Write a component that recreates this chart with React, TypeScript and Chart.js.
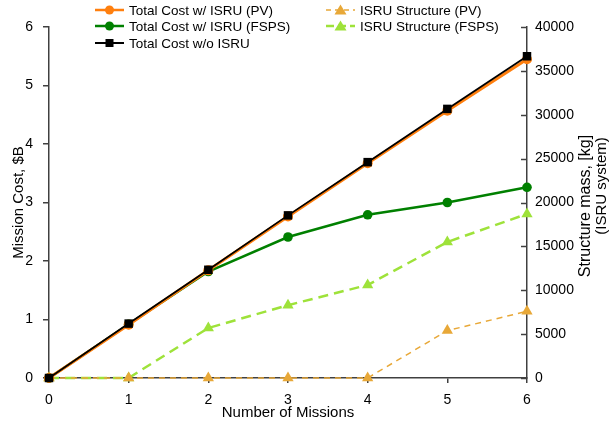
import React, { useEffect, useRef } from "react";
import { Chart, registerables } from "chart.js";

Chart.register(...registerables);

const missions = ["0", "1", "2", "3", "4", "5", "6"];
const totalCostPV = [0, 0.91, 1.84, 2.76, 3.67, 4.57, 5.45];
const totalCostFSPS = [0, 0.92, 1.82, 2.41, 2.79, 3.0, 3.26];
const totalCostNoISRU = [0, 0.93, 1.85, 2.78, 3.69, 4.6, 5.5];
const structurePV = [0, 0, 0, 0, 0, 5400, 7600];
const structureFSPS = [0, 0, 5700, 8300, 10600, 15500, 18700];

const FONT = "'Liberation Sans', Arial, sans-serif";
const AXIS = "#404040";
const C_ORANGE = "#ff7f0e";
const C_GREEN = "#008000";
const C_BLACK = "#000000";
const C_GOLD = "#e8a838";
const C_LIME = "#9ee23a";

const legendItems = [
  { label: "Total Cost w/ ISRU (PV)", color: C_ORANGE, style: "circle", dash: [] as number[], lw: 2.5, col: 0, row: 0 },
  { label: "Total Cost w/ ISRU (FSPS)", color: C_GREEN, style: "circle", dash: [], lw: 2.5, col: 0, row: 1 },
  { label: "Total Cost w/o ISRU", color: C_BLACK, style: "rect", dash: [], lw: 2, col: 0, row: 2 },
  { label: "ISRU Structure (PV)", color: C_GOLD, style: "triangle", dash: [5, 4], lw: 1.5, col: 1, row: 0 },
  { label: "ISRU Structure (FSPS)", color: C_LIME, style: "triangle", dash: [8, 4], lw: 2.5, col: 1, row: 1 },
];

function drawMarker(ctx: CanvasRenderingContext2D, style: string, x: number, y: number, color: string) {
  ctx.save();
  ctx.fillStyle = color;
  ctx.setLineDash([]);
  ctx.beginPath();
  if (style === "circle") {
    ctx.arc(x, y, 4.5, 0, Math.PI * 2);
  } else if (style === "rect") {
    ctx.rect(x - 4, y - 4, 8, 8);
  } else {
    ctx.moveTo(x, y - 5.5);
    ctx.lineTo(x + 6, y + 4.5);
    ctx.lineTo(x - 6, y + 4.5);
    ctx.closePath();
  }
  ctx.fill();
  ctx.restore();
}

const overlayPlugin = {
  id: "overlay",
  afterDraw(chart: any) {
    const ctx: CanvasRenderingContext2D = chart.ctx;
    const area = chart.chartArea;
    const y1 = chart.scales.y1;
    ctx.save();
    // inward ticks on right axis
    ctx.strokeStyle = AXIS;
    ctx.lineWidth = 1.5;
    for (const t of y1.ticks) {
      const py = Math.round(y1.getPixelForValue(t.value)) + 0.5;
      ctx.beginPath();
      ctx.moveTo(area.right - 6, py);
      ctx.lineTo(area.right, py);
      ctx.stroke();
    }
    // titles
    ctx.fillStyle = "#000";
    ctx.textAlign = "center";
    ctx.textBaseline = "middle";
    ctx.font = `15px ${FONT}`;
    ctx.fillText("Number of Missions", (area.left + area.right) / 2, 413);
    const rot = (text: string, x: number, y: number) => {
      ctx.save();
      ctx.translate(x, y);
      ctx.rotate(-Math.PI / 2);
      ctx.fillText(text, 0, 0);
      ctx.restore();
    };
    rot("Mission Cost, $B", 19, (area.top + area.bottom) / 2);
    ctx.font = `16px ${FONT}`;
    rot("Structure mass, [kg]", 586, 206);
    ctx.font = `15px ${FONT}`;
    rot("(ISRU system)", 602, 186);
    // legend
    const colX = [95, 326];
    const rowY = [10, 26, 43];
    ctx.font = `13.5px ${FONT}`;
    ctx.textAlign = "left";
    for (const it of legendItems) {
      const x0 = colX[it.col];
      const yy = rowY[it.row];
      ctx.save();
      ctx.strokeStyle = it.color;
      ctx.lineWidth = it.lw;
      ctx.setLineDash(it.dash);
      ctx.beginPath();
      ctx.moveTo(x0, yy);
      ctx.lineTo(x0 + 29, yy);
      ctx.stroke();
      ctx.restore();
      drawMarker(ctx, it.style, x0 + 14.5, yy, it.color);
      ctx.fillStyle = "#000";
      ctx.fillText(it.label, x0 + 34, yy + 1);
    }
    ctx.restore();
  },
};

export default function App() {
  const ref = useRef<HTMLCanvasElement>(null);
  useEffect(() => {
    if (!ref.current) return;
    const chart = new Chart(ref.current, {
      type: "line",
      data: {
        labels: missions,
        datasets: [
          {
            label: "Total Cost w/o ISRU",
            data: totalCostNoISRU,
            yAxisID: "y",
            borderColor: C_BLACK,
            backgroundColor: C_BLACK,
            borderWidth: 1.8,
            pointStyle: "rect",
            pointRadius: 6,
            pointBorderWidth: 0,
            order: 1,
          },
          {
            label: "Total Cost w/ ISRU (PV)",
            data: totalCostPV,
            yAxisID: "y",
            borderColor: C_ORANGE,
            backgroundColor: C_ORANGE,
            borderWidth: 3,
            pointStyle: "circle",
            pointRadius: 5,
            pointBorderWidth: 0,
            order: 2,
          },
          {
            label: "Total Cost w/ ISRU (FSPS)",
            data: totalCostFSPS,
            yAxisID: "y",
            borderColor: C_GREEN,
            backgroundColor: C_GREEN,
            borderWidth: 2.5,
            pointStyle: "circle",
            pointRadius: 4.8,
            pointBorderWidth: 0,
            order: 3,
          },
          {
            label: "ISRU Structure (PV)",
            data: structurePV,
            yAxisID: "y1",
            borderColor: C_GOLD,
            backgroundColor: C_GOLD,
            borderWidth: 1.5,
            borderDash: [6, 5],
            pointStyle: "triangle",
            pointRadius: 6.5,
            pointBorderWidth: 0,
            order: 4,
          },
          {
            label: "ISRU Structure (FSPS)",
            data: structureFSPS,
            yAxisID: "y1",
            borderColor: C_LIME,
            backgroundColor: C_LIME,
            borderWidth: 2.5,
            borderDash: [10, 6],
            pointStyle: "triangle",
            pointRadius: 6.5,
            pointBorderWidth: 0,
            order: 5,
          },
        ],
      },
      options: {
        animation: false,
        responsive: false,
        devicePixelRatio: 1,
        layout: { padding: { top: 27, left: 0, right: 0, bottom: 0 } },
        plugins: { legend: { display: false }, tooltip: { enabled: false } },
        elements: { line: { tension: 0 } },
        datasets: { line: { clip: false as any } },
        scales: {
          x: {
            type: "category",
            offset: false,
            grid: { drawOnChartArea: false, drawTicks: true, tickLength: 5, color: AXIS, lineWidth: 1.5 },
            border: { color: AXIS, width: 1.5 },
            ticks: { color: "#000", font: { family: FONT, size: 14 }, padding: 9, maxRotation: 0 },
            afterFit: (s: any) => { s.height = 44; },
          },
          y: {
            position: "left",
            min: 0,
            max: 6,
            grid: { drawOnChartArea: false, drawTicks: true, tickLength: 6, color: AXIS, lineWidth: 1.5 },
            border: { color: AXIS, width: 1.5 },
            ticks: { stepSize: 1, color: "#000", font: { family: FONT, size: 14 }, padding: 10 },
            afterFit: (s: any) => { s.width = 49; },
          },
          y1: {
            position: "right",
            min: 0,
            max: 40000,
            grid: { drawOnChartArea: false, drawTicks: false, color: AXIS },
            border: { color: AXIS, width: 1.5 },
            ticks: {
              stepSize: 5000,
              color: "#000",
              font: { family: FONT, size: 14 },
              padding: 8,
              callback: (v: any) => String(v),
            },
            afterFit: (s: any) => { s.width = 87; },
          },
        },
      },
      plugins: [overlayPlugin],
    } as any);
    return () => chart.destroy();
  }, []);
  return (
    <div style={{ position: "fixed", left: 0, top: 0, width: 614, height: 422, background: "#fff" }}>
      <canvas ref={ref} width={614} height={422} />
    </div>
  );
}
